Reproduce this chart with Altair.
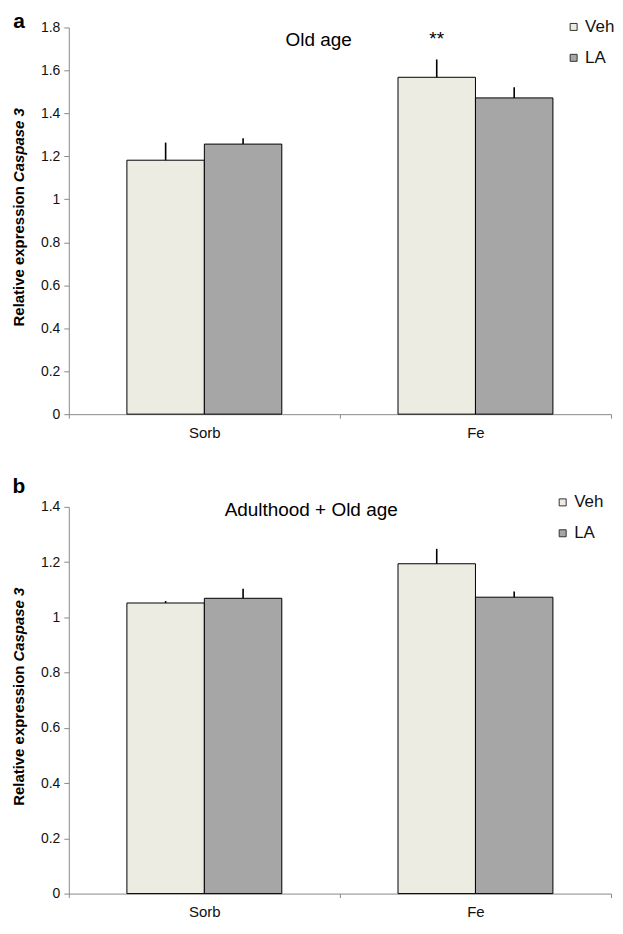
import altair as alt
import pandas as pd

conditions = ["Sorb", "Fe"]
groups = ["Veh", "LA"]

old_veh_mean = [1.182, 1.568]
old_veh_err = [0.082, 0.083]
old_la_mean = [1.257, 1.472]
old_la_err = [0.027, 0.050]

adult_veh_mean = [1.052, 1.194]
adult_veh_err = [0.007, 0.054]
adult_la_mean = [1.069, 1.073]
adult_la_err = [0.035, 0.021]

old_ticks = [0, 0.2, 0.4, 0.6, 0.8, 1, 1.2, 1.4, 1.6, 1.8]
adult_ticks = [0, 0.2, 0.4, 0.6, 0.8, 1, 1.2, 1.4]

star_cond = ["Fe"]
star_group = ["Veh"]
star_pos = [1.745]
star_text = ["**"]

colors = ["#EDECE3", "#A6A6A6"]
FONT = "Liberation Sans"
W, H = 544, 388
AXIS_GRAY = "#8a8a8a"


def make_df(veh_m, veh_e, la_m, la_e):
    rows = []
    for i, c in enumerate(conditions):
        rows.append(dict(cond=c, group="Veh", mean=veh_m[i], upper=veh_m[i] + veh_e[i]))
        rows.append(dict(cond=c, group="LA", mean=la_m[i], upper=la_m[i] + la_e[i]))
    return pd.DataFrame(rows)


def panel(df, ymax, ticks, letter, letter_y, title, title_x, title_y,
          legend_x, legend_y, star=False):
    x = alt.X("cond:N", sort=conditions,
              scale=alt.Scale(paddingInner=0, paddingOuter=0),
              axis=alt.Axis(title=None, labelAngle=0, tickBand="extent",
                            tickSize=4, tickColor=AXIS_GRAY, domainColor=AXIS_GRAY,
                            labelFontSize=15, labelFont=FONT, labelColor="#111111",
                            labelPadding=7))
    xo = alt.XOffset("group:N", sort=groups,
                     scale=alt.Scale(paddingInner=0, paddingOuter=0.75))
    y = alt.Y("mean:Q", scale=alt.Scale(domain=[0, ymax], nice=False, zero=True),
              axis=alt.Axis(title=None, values=ticks, format="~g", grid=False,
                            tickSize=5, tickColor=AXIS_GRAY, domainColor=AXIS_GRAY,
                            labelFontSize=14, labelFont=FONT, labelColor="#111111",
                            labelPadding=4))
    color = alt.Color("group:N", sort=groups,
                      scale=alt.Scale(domain=groups, range=colors),
                      legend=alt.Legend(title=None, orient="none",
                                        legendX=legend_x, legendY=legend_y,
                                        symbolType="square", symbolSize=49,
                                        symbolStrokeColor="#333333", symbolStrokeWidth=1,
                                        labelFontSize=17, labelFont=FONT,
                                        labelColor="#111111", rowPadding=13,
                                        labelOffset=3))
    bars = alt.Chart(df).mark_bar(stroke="black", strokeWidth=1).encode(
        x=x, xOffset=xo, y=y, color=color)
    err = alt.Chart(df).mark_rule(color="black", strokeWidth=1.6).encode(
        x=x, xOffset=xo, y=alt.Y("upper:Q", title=None), y2="mean:Q")
    one = pd.DataFrame({"k": [0]})
    letter_t = alt.Chart(one).mark_text(
        text=letter, fontSize=21, fontWeight="bold", font=FONT,
        align="center", baseline="middle", color="black").encode(
        x=alt.value(-50), y=alt.value(letter_y))
    title_t = alt.Chart(one).mark_text(
        text=title, fontSize=19, font=FONT, align="center",
        baseline="middle", color="black").encode(
        x=alt.value(title_x), y=alt.value(title_y))
    p = H * 0.40
    ytitle1 = alt.Chart(one).mark_text(
        text="Relative expression", fontSize=15, fontWeight="bold", font=FONT,
        angle=270, align="right", baseline="middle", color="black").encode(
        x=alt.value(-50), y=alt.value(p + 4))
    ytitle2 = alt.Chart(one).mark_text(
        text="Caspase 3", fontSize=15, fontWeight="bold", fontStyle="italic",
        font=FONT, angle=270, align="left", baseline="middle", color="black").encode(
        x=alt.value(-50), y=alt.value(p))
    layers = [bars, err, letter_t, title_t, ytitle1, ytitle2]
    if star:
        sdf = pd.DataFrame({"cond": star_cond, "group": star_group,
                            "pos": star_pos, "txt": star_text})
        st = alt.Chart(sdf).mark_text(fontSize=19, font=FONT, baseline="middle",
                                      color="black").encode(
            x=x, xOffset=xo, y=alt.Y("pos:Q", title=None), text="txt:N")
        layers.append(st)
    return alt.layer(*layers).properties(width=W, height=H)


old_df = make_df(old_veh_mean, old_veh_err, old_la_mean, old_la_err)
adult_df = make_df(adult_veh_mean, adult_veh_err, adult_la_mean, adult_la_err)

panel_a = panel(old_df, 1.8, old_ticks, "a", -5, "Old age", W * 0.461, 13,
                W - 46, -9, star=True)
panel_b = panel(adult_df, 1.4, adult_ticks, "b", -20, "Adulthood + Old age",
                W * 0.447, 3, W - 57, -13)

chart = alt.vconcat(panel_a, panel_b, spacing=36).resolve_scale(
    color="independent").resolve_legend(color="independent").properties(
    padding={"left": 4, "top": 2, "right": 0, "bottom": 0}).configure_view(stroke=None)

chart.save("out.html", embed_options={"renderer": "svg", "actions": False})
